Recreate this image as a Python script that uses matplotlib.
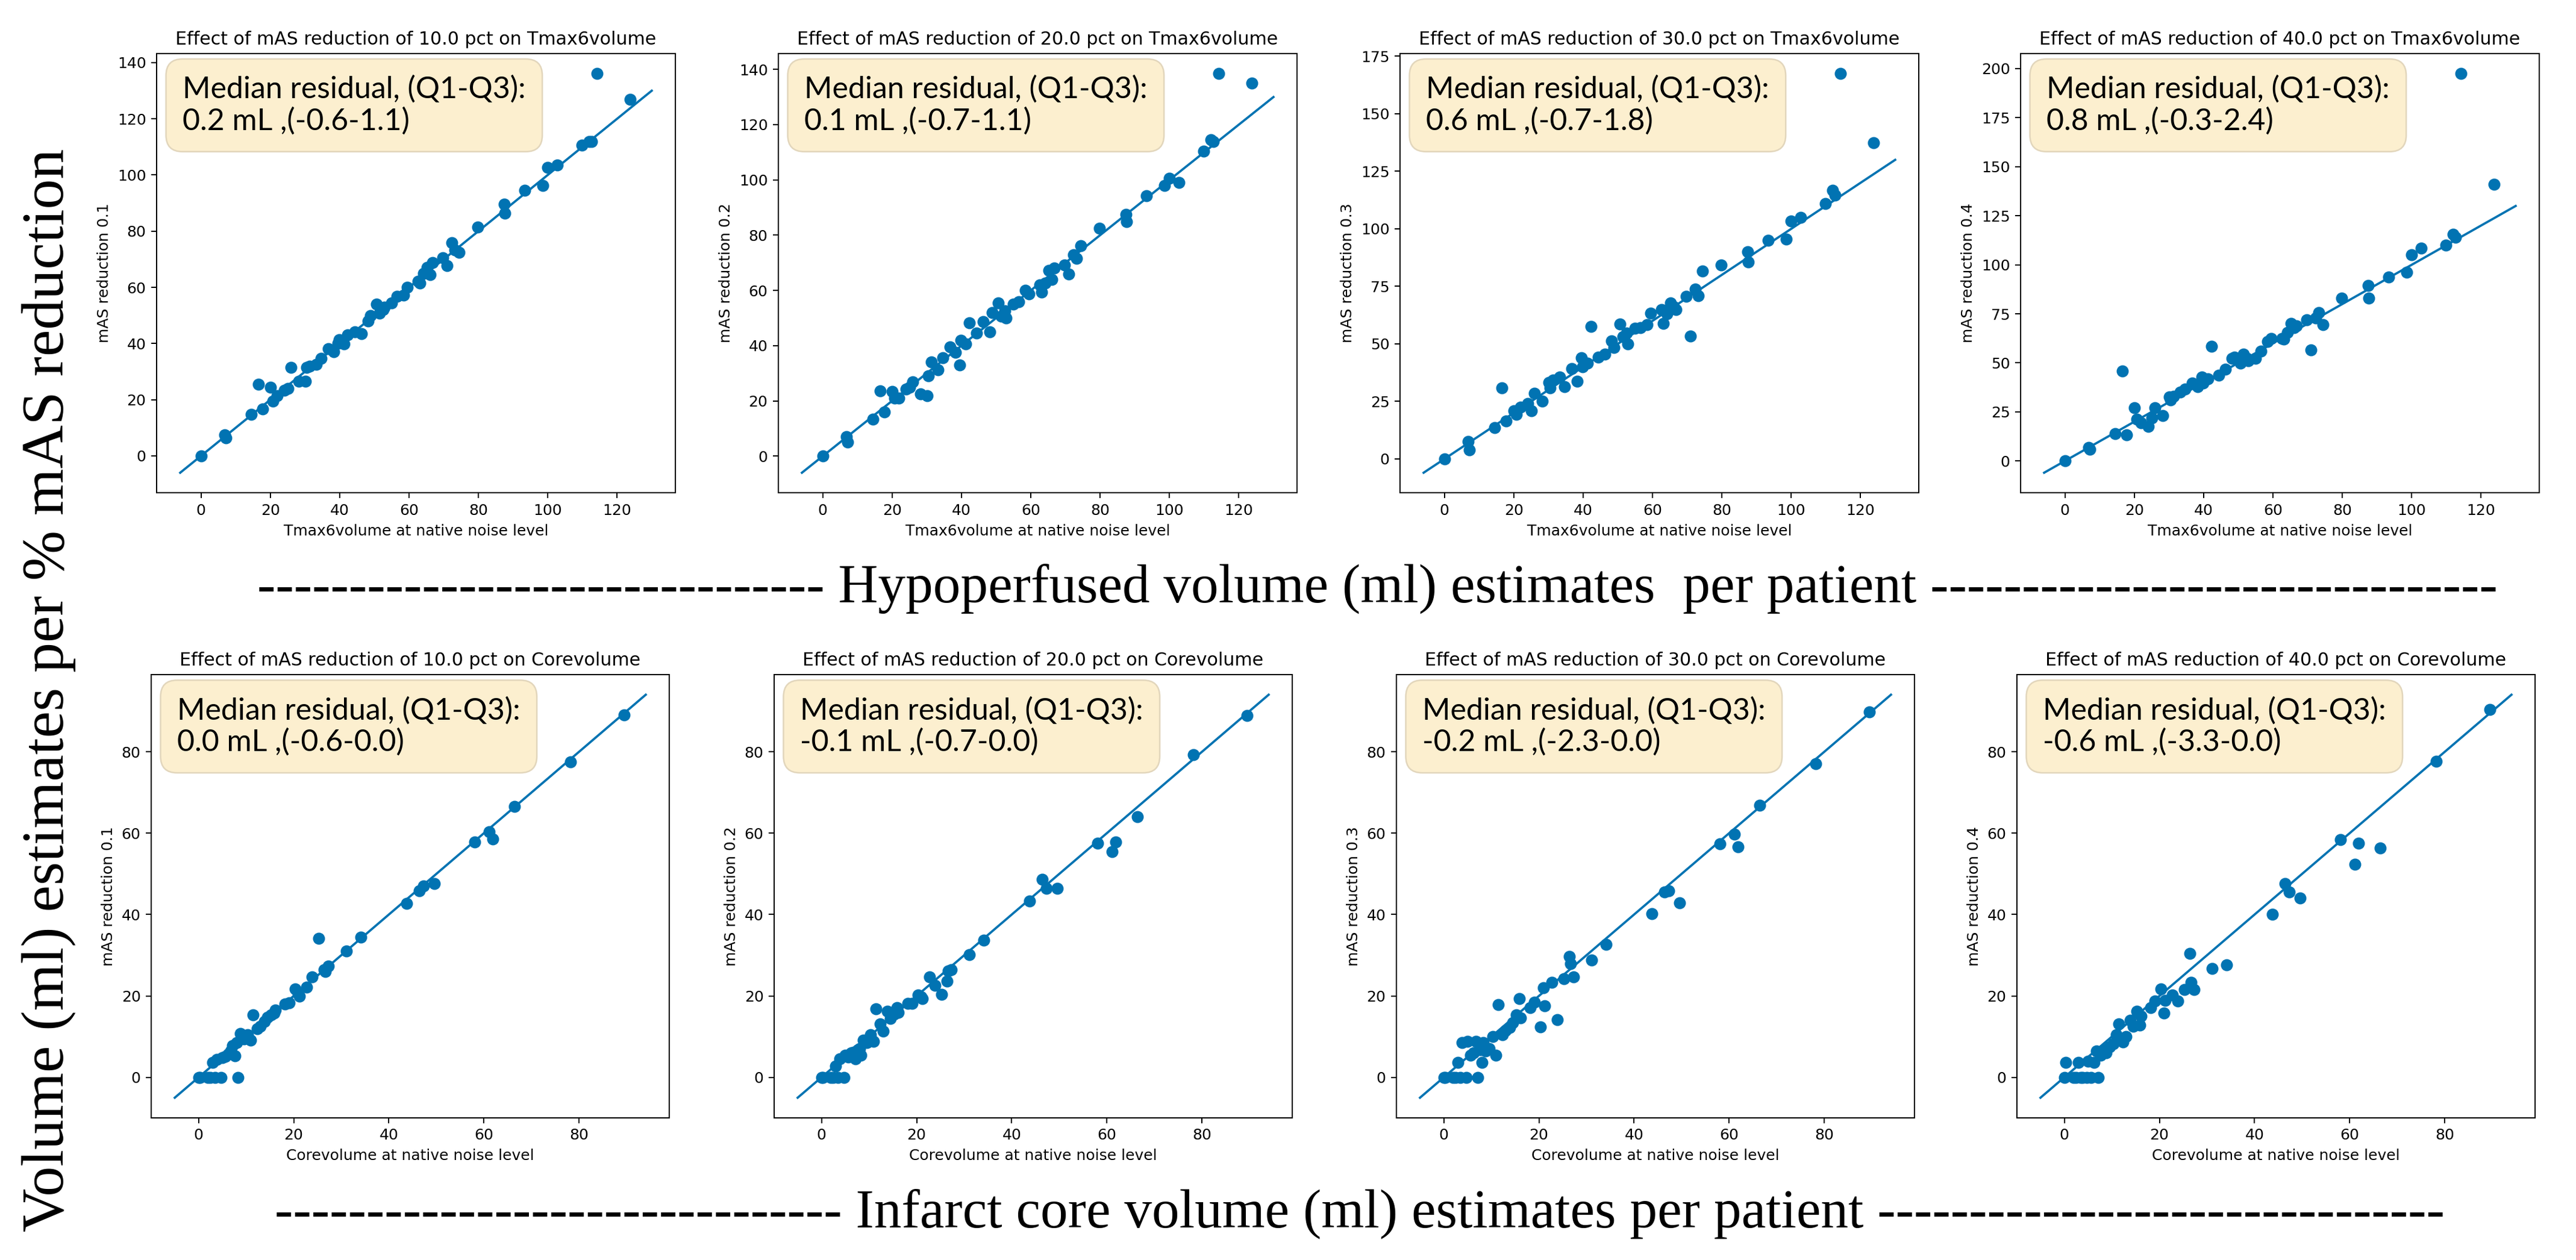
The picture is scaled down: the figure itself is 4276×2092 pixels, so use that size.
import matplotlib
matplotlib.use('Agg')
import matplotlib.pyplot as plt
from matplotlib.ticker import MultipleLocator

# Tmax6volume (hypoperfused) at native noise level, one value per patient
x_tmax = [0, 6.8, 7.2, 14.5, 16.6, 17.7, 20, 20.8, 21.9, 24, 25, 26, 28.2, 30.1, 30.5, 31.4,
          33.3, 34.6, 36.7, 38.3, 39.5, 39.9, 41.2, 42.3, 44.4, 46.2, 48.1, 48.8, 50.6, 51.5,
          52.5, 52.9, 54.9, 56.5, 58.4, 59.4, 62.6, 63.1, 64.2, 65.2, 66.1, 66.8, 69.8, 71,
          72.3, 73.2, 74.5, 79.8, 87.4, 87.6, 93.3, 98.5, 100, 102.7, 109.8, 112, 112.6,
          114.2, 123.7]

# Tmax6volume after mAS reduction of 10, 20, 30, 40 %
y_tmax_10 = [0, 7.5, 6.5, 14.8, 25.5, 16.8, 24.4, 19.5, 21.5, 23.3, 24.0, 31.5, 26.6, 26.6,
             31.5, 32.0, 32.6, 34.8, 38.1, 37.0, 40.0, 41.4, 39.8, 43.0, 44.1, 43.6, 48.0,
             50.0, 54.0, 50.7, 52.0, 52.9, 54.5, 56.7, 57.3, 60.0, 62.2, 61.5, 65.0, 67.1,
             64.5, 68.8, 70.5, 67.7, 75.9, 73.2, 72.5, 81.4, 89.6, 86.3, 94.5, 96.2, 102.7,
             103.6, 110.7, 111.8, 112.0, 136.1, 127.0]
y_tmax_20 = [0, 7.0, 5.0, 13.4, 23.6, 16.0, 23.3, 21.0, 21.0, 24.2, 25.0, 27.0, 22.6, 21.9,
             29.0, 34.0, 31.3, 35.6, 39.5, 37.5, 33.1, 42.0, 40.7, 48.2, 44.6, 48.7, 45.0,
             51.9, 55.4, 50.7, 52.7, 50.0, 55.0, 56.0, 60.0, 58.7, 62.0, 59.3, 62.6, 67.3,
             64.0, 68.0, 69.3, 66.0, 72.8, 71.5, 76.2, 82.4, 87.5, 84.8, 94.3, 98.0, 100.5,
             99.0, 110.5, 114.5, 113.8, 138.5, 135.1]
y_tmax_30 = [0, 7.5, 4.0, 13.5, 30.8, 16.5, 21.0, 19.4, 22.5, 24.1, 21.0, 28.6, 25.2, 33.2,
             30.8, 34.4, 35.6, 31.3, 39.2, 33.7, 44.0, 40.0, 41.5, 57.5, 44.3, 45.6, 51.4,
             48.3, 58.6, 53.0, 54.8, 50.0, 56.7, 57.0, 58.3, 63.3, 64.9, 59.0, 63.0, 67.8,
             66.2, 65.0, 70.6, 53.5, 73.8, 71.0, 81.6, 84.3, 90.0, 85.7, 95.0, 95.5, 103.5,
             105.0, 111.0, 116.7, 114.6, 167.5, 137.3]
y_tmax_40 = [0, 7.0, 6.0, 13.8, 45.9, 13.3, 27.1, 21.3, 19.3, 17.7, 22.0, 27.1, 23.2, 32.6,
             31.0, 33.0, 35.0, 36.5, 39.7, 38.0, 42.8, 39.7, 42.0, 58.5, 43.6, 46.7, 52.2,
             53.0, 49.9, 54.5, 52.2, 51.0, 52.2, 56.1, 60.8, 62.4, 62.4, 62.0, 65.5, 70.2,
             67.9, 69.0, 71.8, 56.6, 73.0, 75.7, 69.4, 83.1, 89.5, 83.1, 93.7, 96.1, 105.0,
             108.6, 109.9, 115.7, 114.1, 197.5, 141.0]

# Corevolume (infarct core) at native noise level
x_core = [0.0, 0.3, 2.0, 2.5, 3.0, 3.5, 3.8, 4.8, 5.0, 5.6, 6.2, 6.8, 7.2, 7.6, 8.0, 8.3, 8.8,
          9.5, 10.3, 10.9, 11.4, 12.3, 13.0, 13.9, 14.5, 15.2, 15.9, 16.1, 18.1, 19.0, 20.3,
          20.9, 21.2, 22.7, 23.8, 25.3, 26.4, 26.7, 27.3, 31.1, 34.1, 43.7, 46.4, 47.3, 49.6,
          58.0, 61.1, 61.8, 66.4, 78.2, 89.5]

y_core_10 = [0, 0, 0, 0, 3.6, 0, 4.4, 0, 4.8, 5.2, 5.7, 6.5, 7.8, 5.3, 8.6, 0, 10.8, 9.5, 10.5,
             9.1, 15.4, 12.0, 12.5, 13.7, 14.8, 15.4, 15.8, 16.5, 18.0, 18.3, 21.7, 20.5, 20.0,
             22.2, 24.7, 34.1, 26.4, 26.0, 27.3, 31.1, 34.5, 42.7, 45.9, 47.0, 47.6, 57.8, 60.3,
             58.5, 66.5, 77.5, 89.0]
y_core_20 = [0, 0, 0, 0, 2.8, 0, 4.6, 0, 5.5, 5.0, 6.0, 6.2, 4.6, 6.8, 7.0, 5.5, 9.1, 8.5, 10.4,
             8.9, 16.9, 13.1, 11.3, 16.2, 14.4, 15.5, 17.1, 16.0, 18.2, 18.2, 20.3, 19.8, 19.4,
             24.6, 22.6, 20.4, 23.7, 26.1, 26.5, 30.2, 33.7, 43.3, 48.6, 46.4, 46.4, 57.5, 55.5,
             57.8, 64.0, 79.3, 88.9]
y_core_30 = [0, 0, 0, 0, 3.6, 0, 8.6, 0, 8.9, 5.5, 6.0, 8.9, 0, 6.8, 3.7, 8.6, 6.4, 7.0, 10.0,
             5.5, 17.8, 10.4, 11.5, 12.2, 13.5, 15.3, 19.3, 14.6, 17.1, 18.5, 12.4, 22.0, 17.5,
             23.3, 14.1, 24.2, 29.7, 27.9, 24.6, 28.8, 32.6, 40.2, 45.5, 45.9, 42.8, 57.3, 59.7,
             56.6, 66.8, 77.1, 89.8]
y_core_40 = [0, 3.6, 0, 0, 3.7, 0, 0, 0, 3.9, 0, 3.7, 6.4, 0, 5.5, 6.0, 6.8, 6.0, 7.5, 8.2,
             10.4, 13.1, 8.7, 10.0, 14.0, 12.6, 16.2, 12.8, 15.0, 17.1, 18.7, 21.7, 15.8, 18.9,
             20.3, 18.7, 21.5, 30.4, 23.3, 21.5, 26.8, 27.7, 40.0, 47.6, 45.5, 44.0, 58.4, 52.4,
             57.5, 56.4, 77.7, 90.4]

# identity line ends
line_tmax = [-6, 130]
line_core = [-5, 94]

reductions = [10.0, 20.0, 30.0, 40.0]
fractions = ['0.1', '0.2', '0.3', '0.4']
box_tmax = ['0.2 mL ,(-0.6-1.1)', '0.1 mL ,(-0.7-1.1)', '0.6 mL ,(-0.7-1.8)', '0.8 mL ,(-0.3-2.4)']
box_core = ['0.0 mL ,(-0.6-0.0)', '-0.1 mL ,(-0.7-0.0)', '-0.2 mL ,(-2.3-0.0)', '-0.6 mL ,(-3.3-0.0)']
ys_tmax = [y_tmax_10, y_tmax_20, y_tmax_30, y_tmax_40]
ys_core = [y_core_10, y_core_20, y_core_30, y_core_40]
ystep_tmax = [20, 20, 25, 25]

col = '#0173b2'
W, H = 4276, 2092
fig = plt.figure(figsize=(W / 180, H / 180), dpi=180)

props = dict(boxstyle='round,pad=0.55', facecolor='#fcefcf', edgecolor='#e2d6bc', linewidth=1)

top_left = [260, 1292, 2324, 3354]
bot_left = [251, 1285, 2318, 3348]

for i in range(4):
    # top row: Tmax6volume
    ax = fig.add_axes([top_left[i] / W, 1 - 818 / H, 861 / W, 729 / H])
    ax.plot(line_tmax, line_tmax, color=col, lw=1.5)
    ax.plot(x_tmax, ys_tmax[i], 'o', color=col, ms=7)
    ax.set_title(f'Effect of mAS reduction of {reductions[i]} pct on Tmax6volume', fontsize=12)
    ax.set_xlabel('Tmax6volume at native noise level')
    ax.set_ylabel(f'mAS reduction {fractions[i]}')
    ax.xaxis.set_major_locator(MultipleLocator(20))
    ax.yaxis.set_major_locator(MultipleLocator(ystep_tmax[i]))
    ax.text(0.05, 0.95, 'Median residual, (Q1-Q3):\n' + box_tmax[i], transform=ax.transAxes,
            va='top', ha='left', fontsize=20, family='Lato', linespacing=1.15, bbox=props)

    # bottom row: Corevolume
    ax = fig.add_axes([bot_left[i] / W, 1 - 1856 / H, 860 / W, 736 / H])
    ax.plot(line_core, line_core, color=col, lw=1.5)
    ax.plot(x_core, ys_core[i], 'o', color=col, ms=7)
    ax.set_title(f'Effect of mAS reduction of {reductions[i]} pct on Corevolume', fontsize=12)
    ax.set_xlabel('Corevolume at native noise level')
    ax.set_ylabel(f'mAS reduction {fractions[i]}')
    ax.xaxis.set_major_locator(MultipleLocator(20))
    ax.yaxis.set_major_locator(MultipleLocator(20))
    ax.text(0.05, 0.95, 'Median residual, (Q1-Q3):\n' + box_core[i], transform=ax.transAxes,
            va='top', ha='left', fontsize=20, family='Lato', linespacing=1.15, bbox=props)

dashes = '-' * 31
fig.text(2286 / W, 1 - 1000 / H, dashes + ' Hypoperfused volume (ml) estimates  per patient ' + dashes,
         ha='center', va='baseline', fontsize=36.5, family='Liberation Serif')
fig.text(2257 / W, 1 - 2038 / H, dashes + ' Infarct core volume (ml) estimates per patient ' + dashes,
         ha='center', va='baseline', fontsize=36.5, family='Liberation Serif')
fig.text(105 / W, 1 - 1146 / H, 'Volume (ml) estimates per % mAS reduction', rotation=90,
         rotation_mode='anchor', ha='center', va='baseline', fontsize=40, family='Liberation Serif')

fig.savefig('out.png', dpi=180)
